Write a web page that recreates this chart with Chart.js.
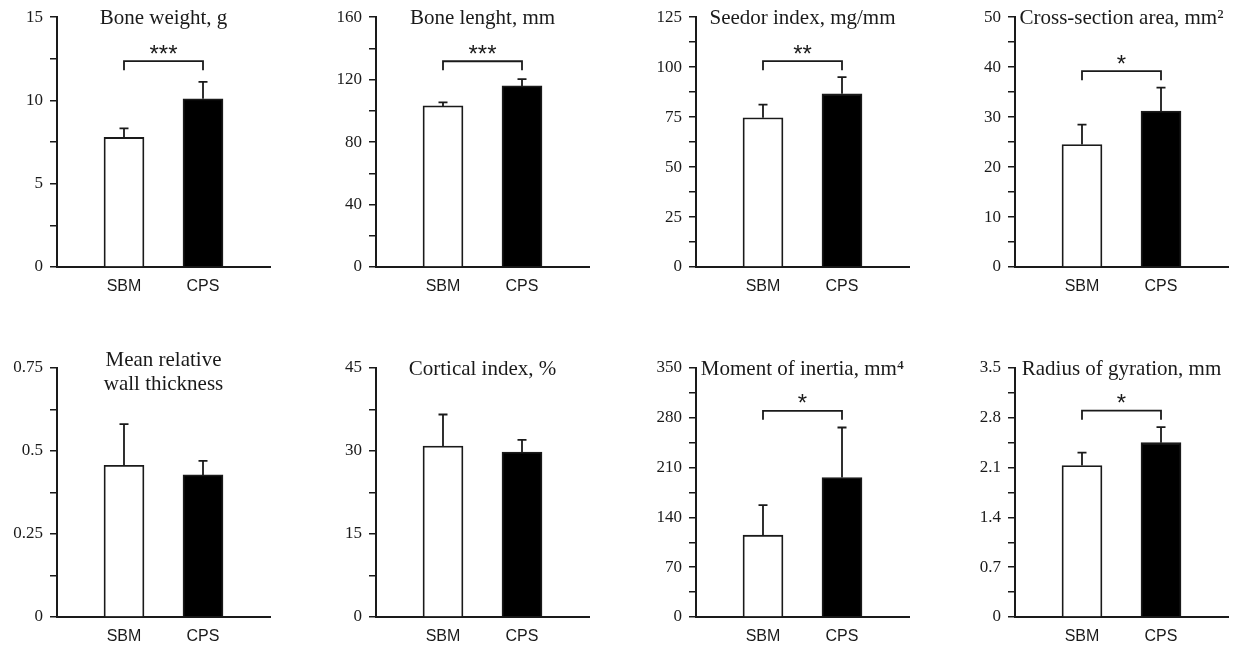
<!DOCTYPE html>
<html>
<head>
<meta charset="utf-8">
<script src="https://cdn.jsdelivr.net/npm/chart.js@4.4.0/dist/chart.umd.min.js"></script>
<style>
    body { margin: 0; background: #fff; width: 1238px; height: 645px; position: relative; overflow: hidden; }
    canvas { position: absolute; }
</style>
</head>
<body>
<script>
// Dados
const categories = ['SBM', 'CPS'];
const titles = [
    ['Bone weight, g'],
    ['Bone lenght, mm'],
    ['Seedor index, mg/mm'],
    ['Cross-section area, mm²'],
    ['Mean relative', 'wall thickness'],
    ['Cortical index, %'],
    ['Moment of inertia, mm⁴'],
    ['Radius of gyration, mm']
];
const yMax = [15, 160, 125, 50, 0.75, 45, 350, 3.5];
const yStep = [2.5, 20, 12.5, 5, 0.125, 7.5, 35, 0.35];
const yLabels = [
    ['0', '5', '10', '15'],
    ['0', '40', '80', '120', '160'],
    ['0', '25', '50', '75', '100', '125'],
    ['0', '10', '20', '30', '40', '50'],
    ['0', '0.25', '0.5', '0.75'],
    ['0', '15', '30', '45'],
    ['0', '70', '140', '210', '280', '350'],
    ['0', '0.7', '1.4', '2.1', '2.8', '3.5']
];
const sbmMean = [7.78, 103.2, 74.7, 24.5, 0.457, 30.9, 115, 2.13];
const sbmSD = [0.54, 2.2, 6.6, 4.0, 0.124, 5.7, 42.3, 0.18];
const cpsMean = [10.1, 116, 86.7, 31.2, 0.428, 29.8, 196, 2.45];
const cpsSD = [1.02, 4.3, 8.3, 4.7, 0.042, 2.2, 70.4, 0.22];
const bracketValue = [12.36, 131.8, 103, 39.2, null, null, 289.8, 2.9];
const stars = ['***', '***', '**', '*', '', '', '*', '*'];

// Layout dos painéis
const colLeft = [0, 310, 620, 930];
const axisLeft = [57, 66, 76, 85];
const areaWidth = 213;
const ink = '#1a1a1a';

// Barras de erro, colchetes de significância e títulos
const overlayPlugin = {
    id: 'overlay',
    afterDatasetsDraw(chart) {
        const i = chart.options.plugins.overlay.panel;
        const ctx = chart.ctx;
        const yScale = chart.scales.y;
        const ds = chart.data.datasets[0];
        const bars = chart.getDatasetMeta(0).data;

        ctx.save();
        ctx.strokeStyle = ink;
        ctx.lineWidth = 1.8;

        bars.forEach((bar, k) => {
            const top = yScale.getPixelForValue(ds.data[k].y + ds.errors[k]);
            ctx.beginPath();
            ctx.moveTo(bar.x, bar.y);
            ctx.lineTo(bar.x, top);
            ctx.moveTo(bar.x - 4.5, top);
            ctx.lineTo(bar.x + 4.5, top);
            ctx.stroke();
        });

        if (bracketValue[i] !== null) {
            const by = yScale.getPixelForValue(bracketValue[i]);
            const x1 = bars[0].x, x2 = bars[1].x;
            ctx.beginPath();
            ctx.moveTo(x1, by + 9);
            ctx.lineTo(x1, by);
            ctx.lineTo(x2, by);
            ctx.lineTo(x2, by + 9);
            ctx.stroke();

            ctx.fillStyle = ink;
            ctx.font = '24px "Liberation Sans", Arial, sans-serif';
            ctx.textAlign = 'center';
            ctx.textBaseline = 'alphabetic';
            ctx.fillText(stars[i], (x1 + x2) / 2, by + 0.5);
        }
        ctx.restore();
    },
    afterDraw(chart) {
        const i = chart.options.plugins.overlay.panel;
        const ctx = chart.ctx;
        const area = chart.chartArea;
        const lines = titles[i];
        ctx.save();
        ctx.fillStyle = ink;
        ctx.font = '21px "Liberation Serif", "Times New Roman", serif';
        ctx.textAlign = 'center';
        ctx.textBaseline = 'alphabetic';
        const cx = (area.left + area.right) / 2;
        if (lines.length === 1) {
            ctx.fillText(lines[0], cx, area.top + 7);
        } else {
            ctx.fillText(lines[0], cx, area.top - 2);
            ctx.fillText(lines[1], cx, area.top + 22);
        }
        ctx.restore();
    }
};

function makePanel(i) {
    const row = Math.floor(i / 4);
    const col = i % 4;
    const w = col === 3 ? 308 : 310;
    const h = row === 0 ? 300 : 305;
    const top = row === 0 ? 0 : 340;
    const areaTop = row === 0 ? 17 : 28;
    const areaBottom = row === 0 ? 267 : 277;

    const canvas = document.createElement('canvas');
    canvas.width = w;
    canvas.height = h;
    canvas.style.left = colLeft[col] + 'px';
    canvas.style.top = top + 'px';
    canvas.style.width = w + 'px';
    canvas.style.height = h + 'px';
    document.body.appendChild(canvas);

    const means = [sbmMean[i], cpsMean[i]];

    new Chart(canvas, {
        type: 'bar',
        data: {
            datasets: [{
                data: categories.map((c, k) => ({ x: k + 1, y: means[k] })),
                errors: [sbmSD[i], cpsSD[i]],
                backgroundColor: ['#ffffff', '#000000'],
                borderColor: ink,
                borderWidth: 1.8,
                barThickness: 40
            }]
        },
        options: {
            responsive: false,
            animation: false,
            devicePixelRatio: 1,
            layout: {
                padding: { left: 0, top: areaTop, right: w - axisLeft[col] - areaWidth, bottom: 0 }
            },
            plugins: {
                legend: { display: false },
                tooltip: { enabled: false },
                overlay: { panel: i }
            },
            scales: {
                x: {
                    type: 'linear',
                    offset: false,
                    min: 0.152,
                    max: 2.848,
                    afterFit(scale) { scale.height = h - areaBottom; },
                    afterBuildTicks(scale) { scale.ticks = categories.map((c, k) => ({ value: k + 1 })); },
                    ticks: {
                        callback: (v) => categories[v - 1] || '',
                        font: { family: '"Liberation Sans", Arial, sans-serif', size: 16 },
                        color: ink,
                        padding: 10,
                        autoSkip: false,
                        maxRotation: 0
                    },
                    grid: { display: true, offset: false, drawOnChartArea: false, drawTicks: false },
                    border: { display: true, color: ink, width: 2 }
                },
                y: {
                    min: 0,
                    max: yMax[i],
                    afterFit(scale) { scale.width = axisLeft[col]; },
                    ticks: {
                        stepSize: yStep[i],
                        autoSkip: false,
                        callback: (v, idx) => idx % 2 === 0 ? yLabels[i][idx / 2] : '',
                        font: { family: '"Liberation Serif", "Times New Roman", serif', size: 17 },
                        color: ink,
                        padding: 7
                    },
                    grid: { drawOnChartArea: false, drawTicks: true, tickLength: 7, color: ink, lineWidth: 1.5 },
                    border: { display: true, color: ink, width: 2 }
                }
            }
        },
        plugins: [overlayPlugin]
    });
}

for (let i = 0; i < 8; i++) {
    makePanel(i);
}
</script>
</body>
</html>
